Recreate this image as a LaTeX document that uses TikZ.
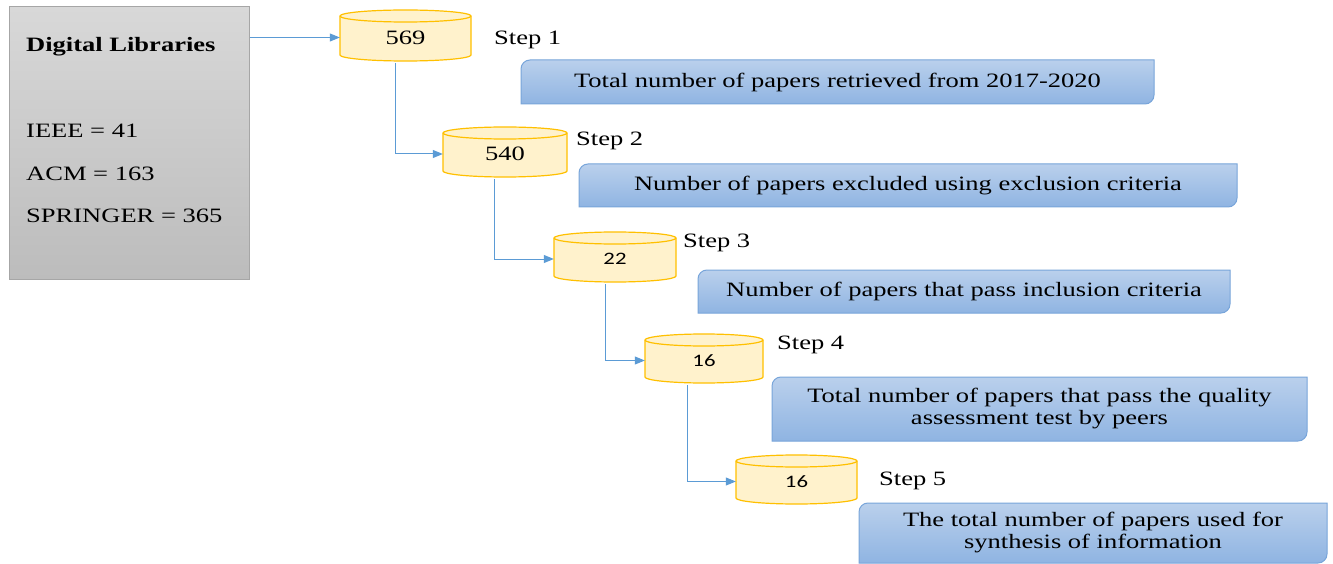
\documentclass[tikz,border=0pt]{standalone}
\usepackage{fontspec}
\setmainfont[FakeStretch=1.3]{Liberation Serif}
\newfontfamily\numsans[FakeStretch=1.3]{Carlito}
\usetikzlibrary{arrows.meta}
\definecolor{cylfill}{RGB}{255,242,204}
\definecolor{cyldraw}{RGB}{255,192,0}
\definecolor{arrblue}{RGB}{91,155,213}
\definecolor{boxtop}{RGB}{186,208,236}
\definecolor{boxbot}{RGB}{143,180,226}
\definecolor{boxdraw}{RGB}{120,165,218}
\definecolor{libtop}{RGB}{216,216,216}
\definecolor{libbot}{RGB}{188,188,188}
\definecolor{libdraw}{RGB}{166,166,166}
\tikzset{
  every node/.style={font=\fontsize{20.4}{22}\selectfont, inner sep=0pt},
  cylstyle/.style={fill=cylfill, draw=cyldraw, line width=1.2pt},
  cylbox/.style={rectangle, draw=none, inner sep=0pt},
  bluebox/.style={top color=boxtop, bottom color=boxbot, draw=boxdraw, line width=1pt},
  libbox/.style={rectangle, top color=libtop, bottom color=libbot, draw=libdraw, line width=1pt},
  arr/.style={draw=arrblue, line width=1pt, -{Triangle[length=10pt,width=8pt]}, arrblue},
  steplabel/.style={anchor=west, text height=13.5pt, text depth=0pt},
  libtext/.style={anchor=west, text height=13.5pt, text depth=0pt},
}
% name, x1, x2, ytop, ybottom, text
\newcommand\mkcyl[6]{%
  \pgfmathsetmacro\cxc{(#2+#3)/2}%
  \pgfmathsetmacro\cyc{(#4+#5)/2}%
  \pgfmathsetmacro\crx{(#3-#2)/2}%
  \pgfmathsetmacro\cw{#3-#2}%
  \pgfmathsetmacro\chh{#5-#4}%
  \path[cylstyle] (#2,#4+6) -- (#2,#5-6) arc[start angle=180,end angle=0,x radius=\crx,y radius=6] -- (#3,#4+6) arc[start angle=0,end angle=-180,x radius=\crx,y radius=6] -- cycle;
  \draw[cylstyle, fill=none] (#2,#4+6) arc[start angle=180,end angle=0,x radius=\crx,y radius=6];
  \node[cylbox, minimum width=\cw pt, minimum height=\chh pt] (#1) at (\cxc,\cyc+2) {#6};
}
% name, x1, x2, ytop, ybottom, text
\newcommand\mkbox[6]{%
  \path[bluebox] (#2,#5) -- (#2,#4+9) .. controls (#2,#4+4) and (#2+4,#4) .. (#2+9,#4) -- (#3,#4) -- (#3,#5-9) .. controls (#3,#5-4) and (#3-4,#5) .. (#3-9,#5) -- cycle;
  \node[align=center] (#1) at ({(#2+#3)/2},{(#4+#5)/2}) {#6};
}
\begin{document}
\begin{tikzpicture}[x=1pt,y=-1pt]
\useasboundingbox (0,0) rectangle (1333,564);
\fill[white] (0,0) rectangle (1333,564);

% Digital libraries box
\node[libbox, minimum width=240pt, minimum height=272pt] (lib) at (129,143) {};
\node[libtext] (libtitle) at (26,45) {\textbf{Digital Libraries}};
\node[libtext] (ieee) at (26,131) {IEEE = 41};
\node[libtext] (acm) at (26,174) {ACM = 163};
\node[libtext] (springer) at (26,216) {SPRINGER = 365};

% cylinders
\mkcyl{c1}{340}{471}{10}{61}{569}
\mkcyl{c2}{443}{567}{127}{177}{540}
\mkcyl{c3}{554}{676}{232}{282}{\numsans\fontsize{17.5}{20}\selectfont 22}
\mkcyl{c4}{645}{763}{334}{383}{\numsans\fontsize{17.5}{20}\selectfont 16}
\mkcyl{c5}{736}{857}{455}{504}{\numsans\fontsize{17.5}{20}\selectfont 16}

% step labels
\node[steplabel] (s1) at (494,38) {Step 1};
\node[steplabel] (s2) at (576,139) {Step 2};
\node[steplabel] (s3) at (683,241) {Step 3};
\node[steplabel] (s4) at (777,343) {Step 4};
\node[steplabel] (s5) at (879,479) {Step 5};

% blue boxes
\mkbox{b1}{521}{1154}{60}{104}{Total number of papers retrieved from 2017-2020}
\mkbox{b2}{579}{1237}{164}{207}{Number of papers excluded using exclusion criteria}
\mkbox{b3}{698}{1230}{270}{313}{Number of papers that pass inclusion criteria}
\mkbox{b4}{772}{1307}{377}{441}{Total number of papers that pass the quality\\assessment test by peers}
\mkbox{b5}{859}{1327}{503}{563}{The total number of papers used for\\synthesis of information}

% connectors
\draw[arr] (lib.east |- c1.west) -- (c1.west);
\draw[arr] ([xshift=-10pt]c1.south) |- (c2.west);
\draw[arr] ([xshift=-11pt]c2.south) |- (c3.west);
\draw[arr] ([xshift=-10pt]c3.south) |- (c4.west);
\draw[arr] ([xshift=-17pt]c4.south) |- (c5.west);
\end{tikzpicture}
\end{document}
